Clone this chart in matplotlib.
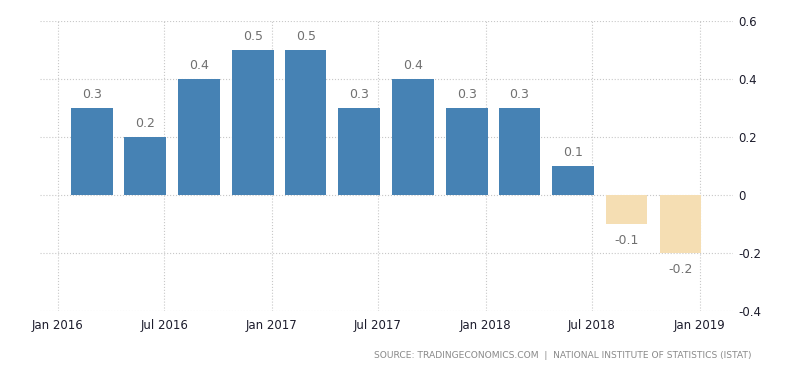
import datetime
import matplotlib
matplotlib.use('Agg')
import matplotlib.pyplot as plt
import matplotlib.dates as mdates

# quarterly change (%), quarter end dates
quarter_ends = ['2016-04-01', '2016-07-01', '2016-10-01', '2017-01-01',
                '2017-04-01', '2017-07-01', '2017-10-01', '2018-01-01',
                '2018-04-01', '2018-07-01', '2018-10-01', '2019-01-01']
values = [0.3, 0.2, 0.4, 0.5, 0.5, 0.3, 0.4, 0.3, 0.3, 0.1, -0.1, -0.2]
value_labels = ['0.3', '0.2', '0.4', '0.5', '0.5', '0.3', '0.4', '0.3', '0.3', '0.1', '-0.1', '-0.2']
tick_dates = ['2016-01-01', '2016-07-01', '2017-01-01', '2017-07-01',
              '2018-01-01', '2018-07-01', '2019-01-01']
tick_labels = ['Jan 2016', 'Jul 2016', 'Jan 2017', 'Jul 2017',
               'Jan 2018', 'Jul 2018', 'Jan 2019']
y_ticks = [0.6, 0.4, 0.2, 0, -0.2, -0.4]
y_tick_labels = ['0.6', '0.4', '0.2', '0', '-0.2', '-0.4']
source = 'SOURCE: TRADINGECONOMICS.COM  |  NATIONAL INSTITUTE OF STATISTICS (ISTAT)'

def d(s):
    return datetime.datetime.strptime(s, '%Y-%m-%d')

ends = [mdates.date2num(d(s)) + 3 for s in quarter_ends]
bar_w = 71  # days

fig = plt.figure(figsize=(8, 3.73), dpi=100)
ax = fig.add_axes([40 / 800, 1 - 311 / 373, (733 - 40) / 800, 290 / 373])

colors = ['#4682B4' if v >= 0 else '#F5DEB3' for v in values]
ax.bar(ends, values, width=-bar_w, align='edge', color=colors, zorder=2)

for x, v, lab in zip(ends, values, value_labels):
    xc = x - bar_w / 2
    if v >= 0:
        ax.annotate(lab, (xc, v), xytext=(0, 5), textcoords='offset points',
                    ha='center', va='bottom', fontsize=9, color='#707070')
    else:
        ax.annotate(lab, (xc, v), xytext=(0, -7), textcoords='offset points',
                    ha='center', va='top', fontsize=9, color='#707070')

ax.set_xlim(mdates.date2num(d('2015-12-02')), mdates.date2num(d('2019-02-27')))
ax.set_ylim(-0.4, 0.6)
ax.set_xticks([mdates.date2num(d(s)) for s in tick_dates])
ax.set_xticklabels(tick_labels)
ax.set_yticks(y_ticks)
ax.set_yticklabels(y_tick_labels)
ax.yaxis.tick_right()
ax.tick_params(axis='both', length=0, labelsize=8.5, labelcolor='#1c1c2c')
ax.tick_params(axis='x', pad=6)
ax.tick_params(axis='y', pad=4)
for sp in ax.spines.values():
    sp.set_visible(False)
ax.grid(True, linestyle=':', color='#c8c8c8', linewidth=0.8, zorder=0)
ax.set_axisbelow(True)

fig.text(751 / 800, 1 - 356 / 373, source, ha='right', va='center',
         fontsize=6.6, color='#8a8a8a')

fig.savefig('out.png', dpi=100)
